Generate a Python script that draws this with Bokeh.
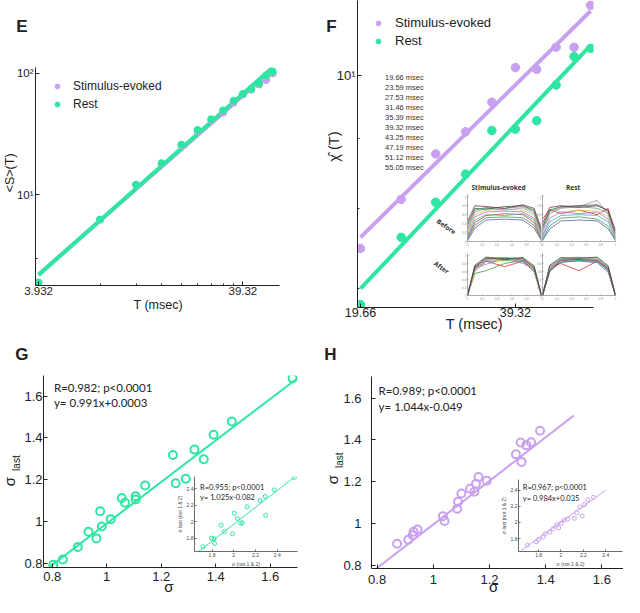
import numpy as np
from bokeh.plotting import figure
from bokeh.models import (Range1d, FixedTicker, Label, Legend, LegendItem, GridBox,
                          CustomJSTickFormatter, PrintfTickFormatter)
from bokeh.embed import file_html
from bokeh.resources import INLINE

# ---------------- data ----------------
# Panel E : <S>(T) vs T
E_T = [3.932, 7.864, 11.796, 15.728, 19.66, 23.592, 27.524, 31.456,
       35.388, 39.32, 43.252, 47.184, 51.116, 55.048]
E_stim = [1.88, 6.2, 12.0, 18.0, 25.5, 33.5, 41.0, 47.5, 57.3, 67.0, 73.5, 81.0, 88.3, 100.0]
E_rest = [1.88, 6.24, 12.1, 18.2, 25.9, 34.2, 41.9, 49.6, 59.6, 67.8, 74.3, 83.2, 96.4, 103.8]
E_xticks = [3.932, 39.32]
E_xminor = [7.864, 11.796, 15.728, 19.66, 23.592, 27.524, 31.456, 35.388]
E_yticks = [10, 100]
E_yminor = [3]

# Panel F : chi-hat(T) vs T
F_T = [19.66, 23.59, 27.53, 31.46, 35.39, 39.32, 43.25, 47.19, 51.12, 55.05]
F_stim = [7.49, 8.13, 8.77, 9.10, 9.56, 10.13, 10.10, 10.48, 10.48, 11.24]
F_rest = [6.82, 7.63, 8.09, 8.48, 9.12, 9.14, 9.27, 9.84, 10.32, 10.46]
F_xticks = [19.66, 39.32]
F_yticks = [10]
F_yminor = [7, 8, 9]

DUR_LABELS = ["19.66 msec", "23.59 msec", "27.53 msec", "31.46 msec", "35.39 msec",
              "39.32 msec", "43.25 msec", "47.19 msec", "51.12 msec", "55.05 msec"]
DUR_COLORS = ["#5b5ba8", "#3f9a46", "#e2342f", "#33b6c8", "#c263cf",
              "#cbd84a", "#9a9a9a", "#8585a8", "#1f6a2a", "#7d2f4a"]

# avalanche profiles of the small inset (normalised time u)
PROF_U = [0, 0.1, 0.25, 0.5, 0.75, 0.9, 1.0]
PROF_STIM_BEFORE = [
    [0.02, 0.30, 0.48, 0.50, 0.48, 0.30, 0.02],
    [0.05, 0.36, 0.53, 0.55, 0.53, 0.36, 0.04],
    [0.08, 0.42, 0.58, 0.62, 0.60, 0.42, 0.06],
    [0.10, 0.48, 0.60, 0.58, 0.62, 0.48, 0.08],
    [0.15, 0.55, 0.66, 0.68, 0.66, 0.52, 0.10],
    [0.20, 0.60, 0.70, 0.72, 0.70, 0.58, 0.12],
    [0.25, 0.66, 0.74, 0.70, 0.75, 0.62, 0.15],
    [0.30, 0.70, 0.76, 0.74, 0.78, 0.66, 0.18],
    [0.38, 0.74, 0.72, 0.78, 0.80, 0.70, 0.22],
    [0.45, 0.80, 0.78, 0.74, 0.82, 0.74, 0.28]]
PROF_REST_BEFORE = [
    [0.02, 0.28, 0.46, 0.48, 0.46, 0.28, 0.02],
    [0.04, 0.35, 0.52, 0.55, 0.50, 0.34, 0.03],
    [0.50, 0.72, 0.62, 0.70, 0.60, 0.74, 0.08],
    [0.08, 0.45, 0.58, 0.60, 0.58, 0.44, 0.06],
    [0.12, 0.52, 0.66, 0.62, 0.66, 0.50, 0.09],
    [0.30, 0.70, 0.66, 0.70, 0.68, 0.56, 0.12],
    [0.20, 0.62, 0.74, 0.78, 0.92, 0.60, 0.14],
    [0.25, 0.66, 0.76, 0.78, 0.74, 0.64, 0.16],
    [0.32, 0.70, 0.78, 0.80, 0.82, 0.68, 0.20],
    [0.40, 0.76, 0.80, 0.76, 0.80, 0.70, 0.25]]
PROF_STIM_AFTER = [
    [0.0, 0.62, 0.85, 0.88, 0.85, 0.60, 0.0],
    [0.0, 0.55, 0.62, 0.80, 0.88, 0.62, 0.0],
    [0.0, 0.70, 0.86, 0.72, 0.86, 0.65, 0.0],
    [0.0, 0.66, 0.88, 0.90, 0.84, 0.62, 0.0],
    [0.0, 0.68, 0.78, 0.92, 0.80, 0.66, 0.0],
    [0.0, 0.60, 0.90, 0.86, 0.90, 0.64, 0.0],
    [0.0, 0.72, 0.92, 0.94, 0.92, 0.70, 0.0],
    [0.0, 0.74, 0.90, 0.95, 0.88, 0.72, 0.0],
    [0.0, 0.76, 0.96, 0.92, 0.95, 0.74, 0.0],
    [0.0, 0.70, 0.94, 0.90, 0.92, 0.68, 0.0]]
PROF_REST_AFTER = [
    [0.0, 0.60, 0.84, 0.86, 0.82, 0.58, 0.0],
    [0.0, 0.64, 0.82, 0.88, 0.86, 0.62, 0.0],
    [0.0, 0.72, 0.80, 0.62, 0.86, 0.70, 0.0],
    [0.0, 0.66, 0.90, 0.88, 0.84, 0.64, 0.0],
    [0.0, 0.68, 0.86, 0.92, 0.86, 0.66, 0.0],
    [0.0, 0.70, 0.94, 0.90, 0.92, 0.68, 0.0],
    [0.0, 0.74, 0.92, 0.96, 0.90, 0.70, 0.0],
    [0.0, 0.72, 0.90, 0.94, 0.94, 0.72, 0.0],
    [0.0, 0.76, 0.95, 0.93, 0.96, 0.74, 0.0],
    [0.0, 0.62, 0.88, 0.90, 0.88, 0.66, 0.0]]
PROF_TICKS = [0, 0.2, 0.4, 0.6, 0.8, 1.0]

# Panel G : rest, sigma_last vs sigma
G_x = [0.804, 0.839, 0.894, 0.933, 0.962, 0.976, 0.982, 1.015, 1.055, 1.067, 1.106,
       1.106, 1.141, 1.243, 1.253, 1.290, 1.322, 1.356, 1.392, 1.459, 1.682]
G_y = [0.794, 0.819, 0.879, 0.952, 0.920, 1.050, 0.977, 1.012, 1.113, 1.090, 1.121,
       1.106, 1.173, 1.318, 1.183, 1.205, 1.344, 1.298, 1.415, 1.478, 1.685]
G_fit = [0.991, 0.0003]
G_fit_x = [0.79, 1.70]
G_in_x = [1.719, 1.795, 1.818, 1.824, 1.884, 1.914, 1.988, 2.004, 2.033, 2.064, 2.078,
          2.123, 2.243, 2.288, 2.293, 2.371, 2.557]
G_in_y = [1.695, 1.800, 1.793, 1.735, 1.956, 1.878, 1.851, 2.102, 2.037, 1.979, 1.986,
          2.180, 2.258, 2.305, 2.076, 2.386, 2.537]
G_in_fit = [1.025, -0.082]
G_in_fit_x = [1.68, 2.56]

# Panel H : stimulus-evoked, sigma_last vs sigma
H_x = [0.871, 0.911, 0.927, 0.930, 0.944, 1.034, 1.040, 1.085, 1.088, 1.100, 1.131,
       1.146, 1.152, 1.161, 1.190, 1.294, 1.311, 1.314, 1.331, 1.348, 1.380]
H_y = [0.903, 0.922, 0.943, 0.960, 0.971, 1.034, 1.012, 1.070, 1.104, 1.143, 1.166,
       1.152, 1.190, 1.222, 1.205, 1.331, 1.388, 1.294, 1.374, 1.389, 1.444]
H_fit = [1.044, -0.049]
H_fit_x = [0.78, 1.50]
H_in_x = [1.70, 1.78, 1.80, 1.84, 1.86, 1.90, 1.93, 1.96, 1.98, 2.00, 2.03, 2.06,
          2.12, 2.14, 2.17, 2.19, 2.21, 2.24, 2.29]
H_in_y = [1.72, 1.76, 1.79, 1.82, 1.86, 1.88, 1.92, 1.97, 1.93, 1.99, 2.03, 2.04,
          2.05, 2.12, 2.19, 2.08, 2.22, 2.28, 2.31]
H_in_fit = [0.984, 0.035]
H_in_fit_x = [1.64, 2.40]

LIN_TICKS = [0.8, 1.0, 1.2, 1.4, 1.6]
IN_TICKS = [1.8, 2.0, 2.2, 2.4]

# ---------------- helpers ----------------
S = 0.974
FONT = "Liberation Sans"
ANN = "Lato"
INK = "#222222"
GREEN = "#2ee6a2"
PURPLE = "#c9a0ef"


def sc(v):
    return int(round(v * S))


def no_align(p):
    try:
        p.frame_align = False
    except Exception:
        pass


def make_fig(rect, frame, xr, yr, xt="linear", yt="linear"):
    x0, y0, x1, y1 = rect
    fx0, fy0, fx1, fy1 = frame
    p = figure(width=sc(x1) - sc(x0), height=sc(y1) - sc(y0), x_range=xr, y_range=yr,
               x_axis_type=xt, y_axis_type=yt, output_backend="svg", toolbar_location=None,
               min_border_left=sc(fx0) - sc(x0), min_border_right=sc(x1) - sc(fx1),
               min_border_top=sc(fy0) - sc(y0), min_border_bottom=sc(y1) - sc(fy1))
    p.xgrid.visible = False
    p.ygrid.visible = False
    p.outline_line_color = None
    p.background_fill_alpha = 0
    p.border_fill_alpha = 0
    no_align(p)
    return p


def style_axes(p, size, color=INK, tin=4, minor=2, xs=3, ys=3, width=1.0, font=FONT):
    for ax in p.axis:
        ax.axis_line_color = color
        ax.axis_line_width = width
        ax.major_tick_line_color = color
        ax.minor_tick_line_color = color
        ax.major_tick_line_width = width
        ax.minor_tick_line_width = width
        ax.major_tick_in = tin
        ax.major_tick_out = 0
        ax.minor_tick_in = minor
        ax.minor_tick_out = 0
        ax.major_label_text_font_size = f"{size}px"
        ax.major_label_text_font = font
        ax.major_label_text_color = color
    p.xaxis.major_label_standoff = xs
    p.yaxis.major_label_standoff = ys


def txt(p, frame, rx, ry, s, size, align="left", baseline="middle", angle=0.0,
        font=FONT, style="normal", color=INK):
    p.add_layout(Label(x=(rx - frame[0]) * S, y=(frame[3] - ry) * S,
                       x_units="screen", y_units="screen", text=s,
                       text_font_size=f"{size}px", text_font=font, text_font_style=style,
                       text_align=align, text_baseline=baseline, angle=angle,
                       text_color=color))


def loglog_fit(x, y):
    a, b = np.polyfit(np.log10(x), np.log10(y), 1)
    xs = np.array([min(x), max(x)])
    return xs, 10 ** (a * np.log10(xs) + b)


SUP = CustomJSTickFormatter(code="""
const e = Math.round(Math.log10(tick));
return '10' + (e == 2 ? '\u00b2' : (e == 1 ? '\u00b9' : ''));""")
DEC = CustomJSTickFormatter(code="return (Math.round(tick*10)/10).toString();")

# ---------------- text layer (page coordinates, lies under everything) ----------------
ov = figure(width=sc(640), height=sc(613), x_range=Range1d(0, 640), y_range=Range1d(613, 0),
            x_axis_location=None, y_axis_location=None, output_backend="svg",
            toolbar_location=None, min_border=0)
ov.xgrid.visible = False
ov.ygrid.visible = False
ov.outline_line_color = None
ov.background_fill_alpha = 0
ov.border_fill_alpha = 0
no_align(ov)
SUB = "#333333"
PAGE_TEXT = [
    # text, x, y, size, angle, style, font
    ("E", 22, 27, 17, 0, "bold", FONT),
    ("<S>(T)", 10, 177, 12.5, np.pi / 2, "normal", FONT),
    ("T (msec)", 162, 313, 12.5, 0, "normal", FONT),
    ("F", 340, 26.7, 17, 0, "bold", FONT),
    ("\u03c7\u0302 (T)", 343, 150, 14.5, np.pi / 2, "normal", FONT),
    ("T (msec)", 486.7, 331.7, 14.5, 0, "normal", FONT),
    ("G", 22, 363, 17, 0, "bold", FONT),
    ("\u03c3", 173, 602, 15, 0, "normal", FONT),
    ("\u03c3", 9, 494, 15, np.pi / 2, "normal", FONT),
    ("last", 16, 475, 10, np.pi / 2, "normal", FONT),
    ("H", 339, 363, 17, 0, "bold", FONT),
    ("\u03c3", 506.7, 602, 15, 0, "normal", FONT),
    ("\u03c3", 341, 492, 15, np.pi / 2, "normal", FONT),
    ("last", 348, 472, 10, np.pi / 2, "normal", FONT),
]
for s_, x_, y_, fs, ang, st, fnt in PAGE_TEXT:
    ov.add_layout(Label(x=x_, y=y_, text=s_, text_font_size=f"{fs}px", text_font=fnt,
                        text_font_style=st, text_align="center", text_baseline="middle",
                        angle=ang, text_color=INK))
INSET_TEXT = [
    ("Stimulus-evoked", 511.7, 192.3, 0),
    ("Rest", 588.3, 192.3, 0),
    ("Before", 458, 232, -0.6),
    ("After", 453, 274, -0.6),
]
for s_, x_, y_, ang in INSET_TEXT:
    ov.add_layout(Label(x=x_, y=y_, text=s_, text_font_size="6.5px", text_font="Open Sans",
                        text_font_style="bold", text_align="center", text_baseline="middle",
                        angle=ang, text_color=SUB))

# ---------------- Panel E ----------------
rectE, frE = (0, 0, 320, 340), (36.4, 68.9, 286, 292.8)
pE = make_fig(rectE, frE, Range1d(3.80, 59.4), Range1d(1.78, 112), "log", "log")
xs, ys = loglog_fit(E_T, E_stim)
pE.line(xs, ys, line_color=PURPLE, line_width=4)
xs, ys = loglog_fit(E_T, E_rest)
pE.line(xs, ys, line_color=GREEN, line_width=4)
rEs = pE.scatter(E_T, E_stim, size=7, fill_color=PURPLE, line_color=PURPLE)
rEr = pE.scatter(E_T, E_rest, size=7, fill_color=GREEN, line_color=GREEN)
style_axes(pE, 11.5, xs=1, ys=2)
pE.xaxis.ticker = FixedTicker(ticks=E_xticks, minor_ticks=E_xminor)
pE.xaxis.formatter = PrintfTickFormatter(format="%.4g")
pE.yaxis.ticker = FixedTicker(ticks=E_yticks, minor_ticks=E_yminor)
pE.yaxis.formatter = SUP
pE.add_layout(Legend(items=[LegendItem(label="Stimulus-evoked", renderers=[rEs]),
                            LegendItem(label="Rest", renderers=[rEr])],
                     location="top_left", margin=12, padding=0, spacing=4,
                     glyph_width=20, glyph_height=12, label_height=12, label_standoff=6,
                     label_text_font_size="12px", label_text_font=FONT,
                     label_text_color=INK, background_fill_alpha=0, border_line_color=None))

# ---------------- Panel F ----------------
rectF, frF = (320, 0, 640, 345), (366.3, 0, 608.7, 315.7)
pF = make_fig(rectF, frF, Range1d(19.40, 55.77), Range1d(6.787, 11.33), "log", "log")
xs, ys = loglog_fit(F_T, F_stim)
pF.line(xs, ys, line_color=PURPLE, line_width=4)
xs, ys = loglog_fit(F_T, F_rest)
pF.line(xs, ys, line_color=GREEN, line_width=4)
rFs = pF.scatter(F_T, F_stim, size=8.5, fill_color=PURPLE, line_color=PURPLE)
rFr = pF.scatter(F_T, F_rest, size=8.5, fill_color=GREEN, line_color=GREEN)
style_axes(pF, 12.5, xs=0, ys=2)
pF.xaxis.ticker = FixedTicker(ticks=F_xticks)
pF.xaxis.formatter = PrintfTickFormatter(format="%.4g")
pF.yaxis.ticker = FixedTicker(ticks=F_yticks, minor_ticks=F_yminor)
pF.yaxis.formatter = SUP
pF.yaxis.major_label_text_font_size = "13px"
pF.add_layout(Legend(items=[LegendItem(label="Stimulus-evoked", renderers=[rFs]),
                            LegendItem(label="Rest", renderers=[rFr])],
                     location="top_left", margin=15, padding=0, spacing=3,
                     glyph_width=12, glyph_height=14, label_height=14, label_standoff=11,
                     label_text_font_size="13px", label_text_font=FONT,
                     label_text_color=INK, background_fill_alpha=0, border_line_color=None))
dur_items = []
for lab, col in zip(DUR_LABELS, DUR_COLORS):
    r = pF.line(x=[], y=[], line_color=col, line_width=1)
    dur_items.append(LegendItem(label=lab, renderers=[r]))
pF.add_layout(Legend(items=dur_items, location=(15, 135), padding=0, spacing=1,
                     glyph_width=10, glyph_height=9, label_height=9, label_standoff=3,
                     label_text_font_size="7.5px", label_text_font=FONT,
                     label_text_color="#333333", background_fill_alpha=0,
                     border_line_color=None))


def mini(rect, frame, curves):
    p = make_fig(rect, frame, Range1d(0, 1), Range1d(0, 1.05))
    for ys_, c in zip(curves, DUR_COLORS):
        p.line(PROF_U, ys_, line_color=c, line_width=0.8)
    style_axes(p, 3, color="#8a8a8a", tin=1, minor=0, xs=1, ys=1, width=0.7)
    p.xaxis.ticker = FixedTicker(ticks=PROF_TICKS)
    p.yaxis.ticker = FixedTicker(ticks=PROF_TICKS)
    return p


rTL, rTR, rBL, rBR = (471, 196, 556, 255), (548, 196, 634, 255), (471, 257, 556, 310), (548, 257, 634, 310)
mTL = mini(rTL, (479.3, 199.3, 555, 248.3), PROF_STIM_BEFORE)
mTR = mini(rTR, (556, 199.3, 631.7, 248.3), PROF_REST_BEFORE)
mBL = mini(rBL, (479.3, 260, 555, 303.3), PROF_STIM_AFTER)
mBR = mini(rBR, (556, 260, 631.7, 303.3), PROF_REST_AFTER)

# ---------------- Panel G ----------------
rectG, frG = (0, 340, 320, 613), (44.3, 385, 305, 581.7)
pG = make_fig(rectG, frG, Range1d(0.768, 1.70), Range1d(0.781, 1.698))
fx = np.array(G_fit_x)
pG.line(fx, G_fit[0] * fx + G_fit[1], line_color=GREEN, line_width=2)
pG.scatter(G_x, G_y, size=8, fill_color=None, line_color=GREEN, line_width=2)
style_axes(pG, 13, xs=4, ys=1)
pG.xaxis.ticker = FixedTicker(ticks=LIN_TICKS)
pG.yaxis.ticker = FixedTicker(ticks=LIN_TICKS)
pG.xaxis.formatter = DEC
pG.yaxis.formatter = DEC
txt(pG, frG, 55, 396.7, "R=0.982; p<0.0001", 11.5, font=ANN)
txt(pG, frG, 55, 412.7, "y= 0.991x+0.0003", 11.5, font=ANN)

rectGi, frGi = (176, 484, 310, 584), (199.3, 488.3, 305, 566.7)
gi = make_fig(rectGi, frGi, Range1d(1.639, 2.586), Range1d(1.637, 2.548))
fx = np.array(G_in_fit_x)
gi.line(fx, G_in_fit[0] * fx + G_in_fit[1], line_color=GREEN, line_width=1)
gi.scatter(G_in_x, G_in_y, size=4, fill_color=None, line_color=GREEN, line_width=1)
style_axes(gi, 5, color="#444444", tin=2, minor=0, xs=1, ys=1, width=0.8)
gi.xaxis.ticker = FixedTicker(ticks=IN_TICKS)
gi.yaxis.ticker = FixedTicker(ticks=IN_TICKS)
gi.xaxis.formatter = DEC
gi.yaxis.formatter = DEC
gi.xaxis.axis_label = "\u03c3 (not 1 & 2)"
gi.yaxis.axis_label = "\u03c3 last (not 1 & 2)"
for ax in gi.axis:
    ax.axis_label_text_font_size = "5px"
    ax.axis_label_text_font_style = "normal"
    ax.axis_label_text_font = FONT
    ax.axis_label_standoff = 1
    ax.axis_label_text_color = "#444444"
txt(gi, frGi, 205, 500.7, "R=0.955; p<0.0001", 7.5, font=ANN)
txt(gi, frGi, 205, 511, "y= 1.025x-0.082", 7.5, font=ANN)

# ---------------- Panel H ----------------
rectH, frH = (320, 345, 640, 613), (381, 386, 640, 582.7)
pH = make_fig(rectH, frH, Range1d(0.78, 1.677), Range1d(0.784, 1.704))
fx = np.array(H_fit_x)
pH.line(fx, H_fit[0] * fx + H_fit[1], line_color=PURPLE, line_width=2)
pH.scatter(H_x, H_y, size=8, fill_color=None, line_color=PURPLE, line_width=2)
style_axes(pH, 13, xs=6, ys=10)
pH.xaxis.ticker = FixedTicker(ticks=LIN_TICKS)
pH.yaxis.ticker = FixedTicker(ticks=LIN_TICKS)
pH.xaxis.formatter = DEC
pH.yaxis.formatter = DEC
txt(pH, frH, 388.3, 400, "R=0.989; p<0.0001", 11.5, font=ANN)
txt(pH, frH, 388.3, 416.7, "y= 1.044x-0.049", 11.5, font=ANN)

rectHi, frHi = (508, 487, 640, 584), (532.3, 491.7, 638.3, 566.7)
hi = make_fig(rectHi, frHi, Range1d(1.62, 2.55), Range1d(1.64, 2.53))
fx = np.array(H_in_fit_x)
hi.line(fx, H_in_fit[0] * fx + H_in_fit[1], line_color=PURPLE, line_width=1)
hi.scatter(H_in_x, H_in_y, size=4, fill_color=None, line_color=PURPLE, line_width=1)
style_axes(hi, 5, color="#444444", tin=2, minor=0, xs=1, ys=1, width=0.8)
hi.xaxis.ticker = FixedTicker(ticks=IN_TICKS)
hi.yaxis.ticker = FixedTicker(ticks=IN_TICKS)
hi.xaxis.formatter = DEC
hi.yaxis.formatter = DEC
hi.xaxis.axis_label = "\u03c3 (not 1 & 2)"
hi.yaxis.axis_label = "\u03c3 last (not 1 & 2)"
for ax in hi.axis:
    ax.axis_label_text_font_size = "5px"
    ax.axis_label_text_font_style = "normal"
    ax.axis_label_text_font = FONT
    ax.axis_label_standoff = 1
    ax.axis_label_text_color = "#444444"
txt(hi, frHi, 536.7, 501, "R=0.967; p<0.0001", 7.5, font=ANN)
txt(hi, frHi, 536.7, 512.3, "y= 0.984x+0.035", 7.5, font=ANN)

# ---------------- layout: overlapping CSS grid ----------------
items = [(ov, (0, 0, 640, 613)),
         (pE, rectE), (pF, rectF), (pG, rectG), (pH, rectH),
         (mTL, rTL), (mTR, rTR), (mBL, rBL), (mBR, rBR),
         (gi, rectGi), (hi, rectHi)]
xs_e = sorted({sc(r[0]) for _, r in items} | {sc(r[2]) for _, r in items})
ys_e = sorted({sc(r[1]) for _, r in items} | {sc(r[3]) for _, r in items})
cols = [f"{b - a}px" for a, b in zip(xs_e[:-1], xs_e[1:])]
rows = [f"{b - a}px" for a, b in zip(ys_e[:-1], ys_e[1:])]
children = []
for f, r in items:
    c0, c1 = xs_e.index(sc(r[0])), xs_e.index(sc(r[2]))
    r0, r1 = ys_e.index(sc(r[1])), ys_e.index(sc(r[3]))
    children.append((f, r0, c0, r1 - r0, c1 - c0))
grid = GridBox(children=children, rows=rows, cols=cols, spacing=0)

open("out.html", "w").write(file_html(grid, INLINE))
